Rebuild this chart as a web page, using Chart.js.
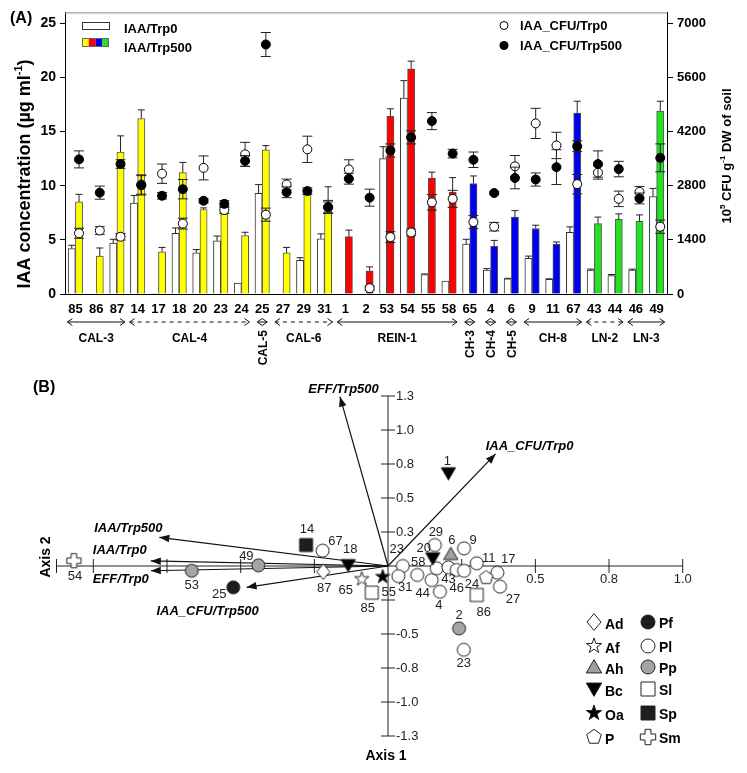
<!DOCTYPE html>
<html>
<head>
<meta charset="utf-8">
<script src="https://cdn.jsdelivr.net/npm/chart.js@4.4.1/dist/chart.umd.min.js"></script>
<style>
  html, body { margin: 0; padding: 0; background: #fff; }
  #wrap { position: relative; width: 747px; height: 773px; }
  canvas { position: absolute; left: 0; }
  #ca { top: 0; }
  #cb { top: 370px; }
</style>
</head>
<body>
<div id="wrap">
  <canvas id="ca" width="747" height="370"></canvas>
  <canvas id="cb" width="747" height="403"></canvas>
</div>
<script>
// ---- panel A data ----
const ISOLATES = ['85','86','87','14','17','18','20','23','24','25','27','29','31','1','2','53','54','55','58','65','4','6','9','11','67','43','44','46','49'];
const IAA_TRP0 = [4.2,0,4.7,8.4,0.05,5.6,3.8,4.9,1.0,9.3,0,3.1,5.1,0,0,12.5,18.1,1.8,1.2,4.6,2.2,1.4,3.3,1.35,5.7,2.2,1.7,2.2,9.0];
const IAA_TRP0_SE = [0.3,0,0.35,0.7,0,0.5,0.3,0.45,0,0.8,0,0.25,0.45,0,0,1.1,1.6,0.05,0,0.45,0.15,0.05,0.2,0.05,0.5,0.1,0.1,0.1,0.75];
const IAA_TRP500 = [8.5,3.5,13.1,16.2,3.9,11.2,7.8,7.4,5.4,13.3,3.8,9.2,7.7,5.3,2.15,16.4,20.8,10.7,9.4,10.2,4.4,7.1,6.05,4.6,16.7,6.5,6.9,6.7,16.9];
const IAA_TRP500_SE = [0.7,0.75,1.5,0.8,0.4,0.95,0.15,0.3,0.3,0.4,0.5,0.3,2.2,0.6,0.35,0.7,0.7,0.55,1.35,0.7,0.55,0.6,0.3,0.2,1.1,0.6,0.5,0.6,0.9];
const CFU_TRP0 = [1570,1640,1480,2830,3110,1820,3260,2170,3610,2050,2830,3740,2240,3220,150,1470,1590,2370,2460,1860,1740,3300,4410,3840,2840,3140,2460,2640,1740];
const CFU_TRP0_SE = [130,100,85,250,250,140,310,85,310,170,140,340,140,250,55,140,85,200,220,170,110,280,390,340,250,170,200,140,170];
const CFU_TRP500 = [3480,2620,3360,2810,2540,2710,2410,2330,3440,6450,2630,2660,2250,2980,2490,3710,4050,4470,3630,3470,2610,3000,2960,3280,3820,3360,3230,2470,3520];
const CFU_TRP500_SE = [220,170,110,250,85,250,55,85,140,310,140,85,170,140,220,170,170,220,110,200,30,280,170,450,140,340,200,140,360];
const LEFT_TICKS = [0, 5, 10, 15, 20, 25];
const RIGHT_TICKS = [0, 1400, 2800, 4200, 5600, 7000];

const GROUP_NAMES = ['CAL-3','CAL-4','CAL-5','CAL-6','REIN-1','CH-3','CH-4','CH-5','CH-8','LN-2','LN-3'];
const GROUP_FAMILY = ['CAL','CAL','CAL','CAL','REIN','CH','CH','CH','CH','LN','LN'];
const GROUP_FIRST = [0,3,9,10,13,19,20,21,22,25,27];
const GROUP_LAST = [2,8,9,12,18,19,20,21,24,26,28];

// ---- panel B data ----
const PC_LABELS = ['54','53','49','25','14','67','18','87','65','55','85','23','31','58','20','29','6','9','11','17','44','','4','43','46','24','','27','86','2','23','1'];
const PC_GROUP = ['Sm','Pp','Pp','Pf','Sp','Pl','Bc','Ad','Af','Oa','Sl','Pl','Pl','Pl','Bc','Pl','Ah','Pl','Pl','Pl','Pl','Pl','Pl','Pl','Pl','Pl','P','Pl','Sl','Pp','Pl','Bc'];
const AXIS2_SCORE = [-1.066,-0.666,-0.44,-0.525,-0.278,-0.222,-0.135,-0.22,-0.089,-0.018,-0.055,0.05,0.035,0.099,0.152,0.159,0.213,0.258,0.301,0.371,0.148,0.165,0.176,0.205,0.233,0.258,0.333,0.38,0.301,0.241,0.257,0.205];
const AXIS1_SCORE = [0.039,-0.035,0.005,-0.157,0.154,0.113,0.007,-0.042,-0.096,-0.079,-0.196,0,-0.074,-0.066,0.057,0.154,0.088,0.13,0.02,-0.049,-0.103,-0.017,-0.189,-0.01,-0.029,-0.035,-0.086,-0.152,-0.213,-0.459,-0.616,0.682];
const VECTOR_NAMES = ['EFF/Trp500','IAA_CFU/Trp0','IAA/Trp500','IAA/Trp0','EFF/Trp0','IAA_CFU/Trp500'];
const VECTOR_AXIS2 = [-0.163, 0.365, -0.776, -0.805, -0.805, -0.48];
const VECTOR_AXIS1 = [1.245, 0.824, 0.211, 0.037, -0.035, -0.157];
const H_TICKS = [-1.125, -1, -0.75, -0.5, -0.25, 0.25, 0.5, 0.75, 1];
const H_TICK_LABELS = ['', '', '', '', '', '', '0.5', '0.8', '1.0'];
const V_TICKS = [-1.25, -1, -0.75, -0.5, -0.25, 0.25, 0.5, 0.75, 1, 1.25];
const V_TICK_LABELS = ['-1.3', '-1.0', '-0.8', '-0.5', '', '0.3', '0.5', '0.8', '1.0', '1.3'];
const LEGEND_LEFT = ['Ad','Af','Ah','Bc','Oa','P'];
const LEGEND_RIGHT = ['Pf','Pl','Pp','Sl','Sp','Sm'];

// ---- styling ----
const FONT = 'Arial, "Liberation Sans", Helvetica, sans-serif';
const FAMILY_COLOR = { CAL: '#ffff00', REIN: '#ff0000', CH: '#0000f0', LN: '#22e322' };
const GROUP_DASHED = [false,true,false,true,false,false,false,false,false,true,false];
const BAR_SHIFT = 0.175;   // half a bar, in category units
const BAR_PX = 7.2;
// label offsets in px from each score point
const LABEL_DX = [1,0,-12,-14,1,13,2,1,-16,6,-4,-6,7,1,-9,1,1,9,12,11,-9,0,-1,0,0,8,0,13,7,0,0,-1];
const LABEL_DY = [16,15,-9,7,-16,-9,-16,17,11,16,16,-17,11,-13,-10,-13,-14,-8,-5,-13,13,0,14,12,18,14,0,13,17,-13,14,-12];
const VLABEL_DX = [3.5, 34, -31, -31, -30, -39];
const VLABEL_DY = [-7, -8, -9, -11, 9, 24];

const SYMBOL_STYLE = {
  Ad: { shape: 'diamond', fill: '#fff' },
  Af: { shape: 'star', fill: '#fff' },
  Ah: { shape: 'up', fill: '#a0a0a0' },
  Bc: { shape: 'down', fill: '#000' },
  Oa: { shape: 'star', fill: '#000' },
  P:  { shape: 'pentagon', fill: '#fff' },
  Pf: { shape: 'circle', fill: '#1c1c1c' },
  Pl: { shape: 'circle', fill: '#fff' },
  Pp: { shape: 'circle', fill: '#a4a4a4' },
  Sl: { shape: 'square', fill: '#fff' },
  Sp: { shape: 'square', fill: '#1e1e1e' },
  Sm: { shape: 'plus', fill: '#fff' }
};

Chart.defaults.font.family = FONT;
Chart.defaults.color = '#000';

function drawSymbol(ctx, type, x, y, r) {
  const st = SYMBOL_STYLE[type];
  ctx.save();
  ctx.beginPath();
  if (st.shape === 'circle') {
    ctx.arc(x, y, r, 0, Math.PI * 2);
  } else if (st.shape === 'square') {
    ctx.rect(x - r, y - r, 2 * r, 2 * r);
  } else if (st.shape === 'diamond') {
    ctx.moveTo(x, y - r * 1.2); ctx.lineTo(x + r, y); ctx.lineTo(x, y + r * 1.2); ctx.lineTo(x - r, y);
  } else if (st.shape === 'up') {
    ctx.moveTo(x, y - r * 1.05); ctx.lineTo(x + r * 1.1, y + r * 0.85); ctx.lineTo(x - r * 1.1, y + r * 0.85);
  } else if (st.shape === 'down') {
    ctx.moveTo(x - r * 1.1, y - r * 0.85); ctx.lineTo(x + r * 1.1, y - r * 0.85); ctx.lineTo(x, y + r * 1.05);
  } else if (st.shape === 'star') {
    for (let k = 0; k < 10; k++) {
      const a = -Math.PI / 2 + k * Math.PI / 5;
      const rr = k % 2 ? r * 0.45 : r * 1.15;
      if (k === 0) ctx.moveTo(x + rr * Math.cos(a), y + rr * Math.sin(a));
      else ctx.lineTo(x + rr * Math.cos(a), y + rr * Math.sin(a));
    }
  } else if (st.shape === 'pentagon') {
    for (let k = 0; k < 5; k++) {
      const a = -Math.PI / 2 + k * 2 * Math.PI / 5;
      const rr = r * 1.1;
      if (k === 0) ctx.moveTo(x + rr * Math.cos(a), y + rr * Math.sin(a));
      else ctx.lineTo(x + rr * Math.cos(a), y + rr * Math.sin(a));
    }
  } else if (st.shape === 'plus') {
    const a = r * 0.42, b = r * 1.1;
    const pts = [[-a,-b],[a,-b],[a,-a],[b,-a],[b,a],[a,a],[a,b],[-a,b],[-a,a],[-b,a],[-b,-a],[-a,-a]];
    pts.forEach((p, k) => k ? ctx.lineTo(x + p[0], y + p[1]) : ctx.moveTo(x + p[0], y + p[1]));
  }
  ctx.closePath();
  ctx.fillStyle = st.fill;
  ctx.fill();
  ctx.lineWidth = 1;
  ctx.strokeStyle = '#222';
  ctx.stroke();
  ctx.restore();
}

function makeSymbolImage(type, r) {
  const c = document.createElement('canvas');
  const s = Math.ceil(r * 2.8) | 1;
  c.width = c.height = s;
  drawSymbol(c.getContext('2d'), type, s / 2, s / 2, r);
  return c;
}

// text with superscripts, optionally rotated to read bottom-to-top
function drawRich(ctx, parts, x, y, size, rotate) {
  ctx.save();
  ctx.translate(x, y);
  if (rotate) ctx.rotate(-Math.PI / 2);
  ctx.textBaseline = 'middle';
  ctx.textAlign = 'left';
  ctx.fillStyle = '#000';
  const fontOf = p => 'bold ' + (p.sup ? Math.round(size * 0.62) : size) + 'px ' + FONT;
  let total = 0;
  parts.forEach(p => { ctx.font = fontOf(p); total += ctx.measureText(p.t).width; });
  let cx = -total / 2;
  parts.forEach(p => {
    ctx.font = fontOf(p);
    ctx.fillText(p.t, cx, p.sup ? -size * 0.36 : 0);
    cx += ctx.measureText(p.t).width;
  });
  ctx.restore();
}

function drawBracket(ctx, x1, x2, y, dashed) {
  ctx.save();
  ctx.strokeStyle = '#111';
  ctx.lineWidth = 1;
  ctx.setLineDash(dashed ? [4, 4] : []);
  ctx.beginPath(); ctx.moveTo(x1, y); ctx.lineTo(x2, y); ctx.stroke();
  ctx.setLineDash([]);
  ctx.beginPath();
  ctx.moveTo(x1 + 5, y - 3.5); ctx.lineTo(x1, y); ctx.lineTo(x1 + 5, y + 3.5);
  ctx.moveTo(x2 - 5, y - 3.5); ctx.lineTo(x2, y); ctx.lineTo(x2 - 5, y + 3.5);
  ctx.stroke();
  ctx.restore();
}

// ================= panel A =================
const barColors = ISOLATES.map((_, i) => {
  const g = GROUP_FIRST.findIndex((f, k) => i >= f && i <= GROUP_LAST[k]);
  return FAMILY_COLOR[GROUP_FAMILY[g]];
});

const errorBars = {
  id: 'errorBars',
  afterDatasetDraw(chart, args) {
    if (args.index > 1) return;
    const vals = args.index === 0 ? IAA_TRP0 : IAA_TRP500;
    const errs = args.index === 0 ? IAA_TRP0_SE : IAA_TRP500_SE;
    const y = chart.scales.y, ctx = chart.ctx;
    ctx.save();
    ctx.strokeStyle = '#222'; ctx.lineWidth = 1;
    args.meta.data.forEach((bar, k) => {
      if (!vals[k] || !errs[k]) return;
      const top = y.getPixelForValue(vals[k] + errs[k]);
      ctx.beginPath();
      ctx.moveTo(bar.x, bar.y); ctx.lineTo(bar.x, top);
      ctx.moveTo(bar.x - 3.5, top); ctx.lineTo(bar.x + 3.5, top);
      ctx.stroke();
    });
    ctx.restore();
  },
  beforeDatasetDraw(chart, args) {
    if (args.index < 2) return;
    const vals = args.index === 2 ? CFU_TRP0 : CFU_TRP500;
    const errs = args.index === 2 ? CFU_TRP0_SE : CFU_TRP500_SE;
    const y = chart.scales.y1, ctx = chart.ctx;
    ctx.save();
    ctx.strokeStyle = '#222'; ctx.lineWidth = 1;
    args.meta.data.forEach((pt, k) => {
      const hi = y.getPixelForValue(vals[k] + errs[k]);
      const lo = y.getPixelForValue(vals[k] - errs[k]);
      ctx.beginPath();
      ctx.moveTo(pt.x, lo); ctx.lineTo(pt.x, hi);
      ctx.moveTo(pt.x - 5, hi); ctx.lineTo(pt.x + 5, hi);
      ctx.moveTo(pt.x - 5, lo); ctx.lineTo(pt.x + 5, lo);
      ctx.stroke();
    });
    ctx.restore();
  }
};

const panelA = {
  id: 'panelA',
  afterDraw(chart) {
    const { ctx, chartArea: a } = chart;
    const xs = chart.scales.x;
    ctx.save();
    ctx.strokeStyle = '#8a8a8a'; ctx.lineWidth = 1;
    ctx.beginPath(); ctx.moveTo(a.left, a.top + 0.5); ctx.lineTo(a.right, a.top + 0.5); ctx.stroke();

    ctx.fillStyle = '#000';
    ctx.textBaseline = 'middle';
    ctx.textAlign = 'left';
    ctx.font = 'bold 16px ' + FONT;
    ctx.fillText('(A)', 10, 19);

    // legend, bars
    ctx.fillStyle = '#fff'; ctx.strokeStyle = '#333';
    ctx.fillRect(82, 22, 28, 8); ctx.strokeRect(82.5, 22.5, 27, 7);
    ['CAL', 'REIN', 'CH', 'LN'].forEach((f, k) => {
      ctx.fillStyle = FAMILY_COLOR[f];
      ctx.fillRect(82 + k * 6.75, 38, 6.75, 9);
    });
    ctx.strokeStyle = '#666'; ctx.strokeRect(82.5, 38.5, 26, 8);
    ctx.fillStyle = '#000';
    ctx.font = 'bold 13px ' + FONT;
    ctx.fillText('IAA/Trp0', 124, 29);
    ctx.fillText('IAA/Trp500', 124, 48);

    // legend, circles
    ctx.lineWidth = 1; ctx.strokeStyle = '#000';
    ctx.beginPath(); ctx.arc(504, 25.5, 4, 0, Math.PI * 2); ctx.fillStyle = '#fff'; ctx.fill(); ctx.stroke();
    ctx.beginPath(); ctx.arc(504, 45.5, 4.5, 0, Math.PI * 2); ctx.fillStyle = '#000'; ctx.fill();
    ctx.fillText('IAA_CFU/Trp0', 520, 26);
    ctx.fillText('IAA_CFU/Trp500', 520, 46);

    // axis titles
    drawRich(ctx, [{ t: 'IAA concentration (\u00b5g ml' }, { t: '-1', sup: true }, { t: ')' }], 25, 174, 18, true);
    drawRich(ctx, [{ t: '10' }, { t: '5', sup: true }, { t: ' CFU g' }, { t: '-1', sup: true }, { t: ' DW of soil' }], 727, 156, 13, true);

    // strain groups
    GROUP_NAMES.forEach((name, g) => {
      const c1 = xs.getPixelForValue(GROUP_FIRST[g]);
      const c2 = xs.getPixelForValue(GROUP_LAST[g]);
      ctx.font = 'bold 12px ' + FONT;
      ctx.fillStyle = '#000';
      if (GROUP_FIRST[g] === GROUP_LAST[g]) {
        drawBracket(ctx, c1 - 5, c1 + 5, 322, false);
        ctx.save();
        ctx.translate(c1 + 1, 330);
        ctx.rotate(-Math.PI / 2);
        ctx.textAlign = 'right';
        ctx.textBaseline = 'middle';
        ctx.fillText(name, 0, 0);
        ctx.restore();
      } else {
        drawBracket(ctx, c1 - 8, c2 + 8, 322, GROUP_DASHED[g]);
        ctx.textAlign = 'center';
        ctx.fillText(name, (c1 + c2) / 2, 339);
      }
    });
    ctx.restore();
  }
};

const idx = ISOLATES.map((_, i) => i);

new Chart(document.getElementById('ca'), {
  type: 'bar',
  data: {
    labels: ISOLATES,
    datasets: [
      { label: 'IAA/Trp0', xAxisID: 'xw', yAxisID: 'y',
        data: idx.map(i => ({ x: i, y: IAA_TRP0[i] })),
        backgroundColor: '#fff', borderColor: '#333', borderWidth: 1,
        grouped: false, barThickness: BAR_PX, order: 4 },
      { label: 'IAA/Trp500', xAxisID: 'xc', yAxisID: 'y',
        data: idx.map(i => ({ x: i, y: IAA_TRP500[i] })),
        backgroundColor: barColors, borderColor: '#555', borderWidth: 1,
        grouped: false, barThickness: BAR_PX, order: 3 },
      { type: 'line', showLine: false, label: 'IAA_CFU/Trp0', xAxisID: 'xc', yAxisID: 'y1',
        data: idx.map(i => ({ x: i, y: CFU_TRP0[i] })),
        pointRadius: 4.5, pointBackgroundColor: '#fff', pointBorderColor: '#000', pointBorderWidth: 1, order: 2 },
      { type: 'line', showLine: false, label: 'IAA_CFU/Trp500', xAxisID: 'xc', yAxisID: 'y1',
        data: idx.map(i => ({ x: i, y: CFU_TRP500[i] })),
        pointRadius: 4.5, pointBackgroundColor: '#000', pointBorderColor: '#000', pointBorderWidth: 1, order: 1 }
    ]
  },
  options: {
    responsive: false,
    animation: false,
    devicePixelRatio: 1,
    events: [],
    layout: { padding: { top: 12, left: 0, right: 0, bottom: 0 } },
    plugins: { legend: { display: false }, tooltip: { enabled: false } },
    scales: {
      x: {
        type: 'category', offset: true,
        grid: { drawOnChartArea: false, drawTicks: false },
        border: { display: true, color: '#000', width: 1 },
        ticks: { autoSkip: false, maxRotation: 0, minRotation: 0, padding: 8, color: '#000', font: { size: 13, weight: 'bold' } },
        afterFit: s => { s.height = 76; }
      },
      xw: { type: 'linear', axis: 'x', display: false, offset: false, min: -0.5 + BAR_SHIFT, max: 28.5 + BAR_SHIFT },
      xc: { type: 'linear', axis: 'x', display: false, offset: false, min: -0.5 - BAR_SHIFT, max: 28.5 - BAR_SHIFT },
      y: {
        position: 'left', min: 0, max: 26,
        afterBuildTicks: s => { s.ticks = LEFT_TICKS.map(v => ({ value: v })); },
        ticks: { padding: 4, color: '#000', font: { size: 14, weight: 'bold' } },
        grid: { drawOnChartArea: false, tickLength: 5, tickColor: '#000' },
        border: { color: '#000' },
        afterFit: s => { s.width = 65; }
      },
      y1: {
        position: 'right', min: 0, max: 7280,
        afterBuildTicks: s => { s.ticks = RIGHT_TICKS.map(v => ({ value: v })); },
        ticks: { padding: 4, color: '#000', font: { size: 13, weight: 'bold' }, callback: v => String(v) },
        grid: { drawOnChartArea: false, tickLength: 6, tickColor: '#000' },
        border: { color: '#000' },
        afterFit: s => { s.width = 80; }
      }
    }
  },
  plugins: [errorBars, panelA]
});

// ================= panel B =================
const symbolImages = {};
Object.keys(SYMBOL_STYLE).forEach(t => { symbolImages[t] = makeSymbolImage(t, 6.5); });

const pointSets = LEGEND_LEFT.concat(LEGEND_RIGHT).map(type => ({
  type: 'scatter',
  label: type,
  data: AXIS2_SCORE.map((v, k) => ({ x: v, y: AXIS1_SCORE[k], k })).filter(p => PC_GROUP[p.k] === type),
  pointStyle: symbolImages[type],
  pointRadius: 6,
  clip: false,
  order: 1
}));

const vectorSets = VECTOR_NAMES.map((name, i) => ({
  type: 'line',
  label: name,
  data: [{ x: 0, y: 0 }, { x: VECTOR_AXIS2[i], y: VECTOR_AXIS1[i] }],
  borderColor: '#111',
  borderWidth: 1.2,
  pointRadius: 0,
  fill: false,
  tension: 0,
  clip: false,
  order: 5
}));

const panelB = {
  id: 'panelB',
  beforeDatasetsDraw(chart) {
    const { ctx } = chart;
    const sx = chart.scales.x, sy = chart.scales.y;
    const x0 = sx.getPixelForValue(0), y0 = sy.getPixelForValue(0);
    ctx.save();
    ctx.strokeStyle = '#222'; ctx.lineWidth = 1;
    ctx.beginPath();
    ctx.moveTo(sx.getPixelForValue(H_TICKS[0]), y0); ctx.lineTo(sx.getPixelForValue(H_TICKS[H_TICKS.length - 1]), y0);
    ctx.moveTo(x0, sy.getPixelForValue(V_TICKS[0])); ctx.lineTo(x0, sy.getPixelForValue(V_TICKS[V_TICKS.length - 1]));
    H_TICKS.forEach(v => { const p = sx.getPixelForValue(v); ctx.moveTo(p, y0 - 7); ctx.lineTo(p, y0 + 7); });
    V_TICKS.forEach(v => { const p = sy.getPixelForValue(v); ctx.moveTo(x0 - 7, p); ctx.lineTo(x0 + 7, p); });
    ctx.stroke();
    ctx.fillStyle = '#222';
    ctx.font = '13px ' + FONT;
    ctx.textBaseline = 'middle';
    ctx.textAlign = 'center';
    H_TICKS.forEach((v, k) => { if (H_TICK_LABELS[k]) ctx.fillText(H_TICK_LABELS[k], sx.getPixelForValue(v), y0 + 13); });
    ctx.textAlign = 'left';
    V_TICKS.forEach((v, k) => { if (V_TICK_LABELS[k]) ctx.fillText(V_TICK_LABELS[k], x0 + 8, sy.getPixelForValue(v)); });
    ctx.restore();
  },
  afterDatasetsDraw(chart) {
    const { ctx } = chart;
    const sx = chart.scales.x, sy = chart.scales.y;
    const x0 = sx.getPixelForValue(0), y0 = sy.getPixelForValue(0);
    ctx.save();
    // arrow heads and vector names
    VECTOR_NAMES.forEach((name, i) => {
      const tx = sx.getPixelForValue(VECTOR_AXIS2[i]), ty = sy.getPixelForValue(VECTOR_AXIS1[i]);
      const ang = Math.atan2(ty - y0, tx - x0);
      ctx.save();
      ctx.translate(tx, ty); ctx.rotate(ang);
      ctx.beginPath(); ctx.moveTo(0, 0); ctx.lineTo(-10, -3.8); ctx.lineTo(-10, 3.8); ctx.closePath();
      ctx.fillStyle = '#111'; ctx.fill();
      ctx.restore();
      ctx.fillStyle = '#000';
      ctx.font = 'italic bold 13px ' + FONT;
      ctx.textAlign = 'center'; ctx.textBaseline = 'middle';
      ctx.fillText(name, tx + VLABEL_DX[i], ty + VLABEL_DY[i]);
    });
    // point labels
    ctx.font = '13px ' + FONT;
    ctx.fillStyle = '#222';
    PC_LABELS.forEach((lab, k) => {
      if (!lab) return;
      ctx.fillText(lab, sx.getPixelForValue(AXIS2_SCORE[k]) + LABEL_DX[k], sy.getPixelForValue(AXIS1_SCORE[k]) + LABEL_DY[k]);
    });
    // symbol legend
    const rows = [252, 276, 297, 319, 343, 367];
    ctx.font = 'bold 14px ' + FONT;
    ctx.textAlign = 'left';
    ctx.fillStyle = '#000';
    LEGEND_LEFT.forEach((t, k) => { drawSymbol(ctx, t, 594, rows[k], 7); ctx.fillStyle = '#000'; ctx.fillText(t, 605, rows[k] + 3); });
    LEGEND_RIGHT.forEach((t, k) => { drawSymbol(ctx, t, 648, rows[k], 7); ctx.fillStyle = '#000'; ctx.fillText(t, 659, rows[k] + 2); });
    // titles
    ctx.font = 'bold 16px ' + FONT;
    ctx.fillText('(B)', 33, 18);
    ctx.font = 'bold 14px ' + FONT;
    ctx.textAlign = 'center';
    ctx.fillText('Axis 1', x0 - 2, 386);
    ctx.save();
    ctx.translate(46, y0 - 9); ctx.rotate(-Math.PI / 2);
    ctx.fillText('Axis 2', 0, 0);
    ctx.restore();
    ctx.restore();
  }
};

new Chart(document.getElementById('cb'), {
  type: 'scatter',
  data: { datasets: vectorSets.concat(pointSets) },
  options: {
    responsive: false,
    animation: false,
    devicePixelRatio: 1,
    events: [],
    layout: { padding: { left: 56.5, right: 64.3, top: 26, bottom: 37 } },
    plugins: { legend: { display: false }, tooltip: { enabled: false } },
    scales: {
      x: { type: 'linear', display: false, min: -1.125, max: 1.0 },
      y: { type: 'linear', display: false, min: -1.25, max: 1.25 }
    }
  },
  plugins: [panelB]
});
</script>
</body>
</html>
